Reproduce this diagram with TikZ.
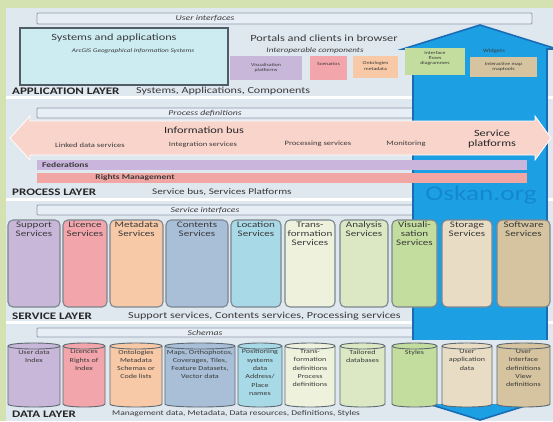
\documentclass[tikz,border=0pt]{standalone}
\usepackage{fontspec}
\setmainfont{Carlito}[FakeStretch=1.3]
\usetikzlibrary{fit}
\definecolor{bgreen}{HTML}{D4E2B2}
\definecolor{panel}{HTML}{DFE7EF}
\definecolor{barfill}{HTML}{E8EEF6}
\definecolor{bardraw}{HTML}{8E9BAB}
\definecolor{sysfill}{HTML}{CCECF1}
\definecolor{sysdraw}{HTML}{505C66}
\definecolor{bluef}{HTML}{1D9FE4}
\definecolor{blued}{HTML}{1A6DB4}
\definecolor{oskan}{HTML}{1488CE}
\definecolor{busfill}{HTML}{F9D4CB}
\definecolor{fedfill}{HTML}{CAB5DD}
\definecolor{rightsfill}{HTML}{F2A6A3}
\definecolor{txt}{HTML}{3A3A3A}
\definecolor{txtdark}{HTML}{262626}
\definecolor{svcdraw}{HTML}{7C868F}
\definecolor{cyldraw}{HTML}{5E6A72}
\definecolor{cA}{HTML}{C9B7D9}
\definecolor{cB}{HTML}{F2A5AA}
\definecolor{cC}{HTML}{F8C9A6}
\definecolor{cD}{HTML}{A9BFD8}
\definecolor{cE}{HTML}{A8D9E6}
\definecolor{cF}{HTML}{EEF2DD}
\definecolor{cG}{HTML}{DBE8C3}
\definecolor{cH}{HTML}{C3DD9F}
\definecolor{cI}{HTML}{E8DCC5}
\definecolor{cJ}{HTML}{D5C49F}
\newcommand\svcnode[5]{%
  \node[svcbox, fill=#4, fit={(#2,220) (#3,307)}] (#1) {};
  \node[svctext] (#1t) at ({(#2+#3)/2},221.5) {#5};
}
\newcommand\datacyl[5]{%
  \filldraw[cylstyle, fill=#4] (#2,346) -- (#2,404) .. controls (#2,408) and (#3,408) .. (#3,404) -- (#3,346) .. controls (#3,342) and (#2,342) .. (#2,346) -- cycle;
  \draw[cylstyle] (#2,346) .. controls (#2,350) and (#3,350) .. (#3,346);
  \node[cyltext] (#1) at ({(#2+#3)/2},349.5) {#5};
}
\begin{document}
\begin{tikzpicture}[x=1pt,y=-1pt,
  bar/.style={draw=bardraw, fill=barfill, line width=0.8pt, rounded corners=1pt, inner sep=0pt},
  barlabel/.style={font=\fontsize{7.5}{8}\selectfont\itshape, text=txt, inner sep=0pt},
  comp/.style={inner sep=0pt, align=center, font=\fontsize{4.5}{5.2}\selectfont, text=txt},
  svcbox/.style={draw=svcdraw, line width=1.1pt, rounded corners=5pt, inner sep=0pt},
  svctext/.style={font=\fontsize{8.5}{9}\selectfont, align=center, text=txt, anchor=north, inner sep=0pt},
  cylstyle/.style={draw=cyldraw, line width=0.9pt},
  cyltext/.style={font=\fontsize{6.2}{8.3}\selectfont, align=center, text=txt, anchor=north, inner sep=0pt},
  layer/.style={font=\fontsize{10}{11}\selectfont\bfseries, text=txtdark, anchor=west, inner sep=0pt},
  layersub/.style={font=\fontsize{9.3}{10}\selectfont, text=txt, anchor=west, inner sep=0pt},
  bustext/.style={font=\fontsize{6.6}{7}\selectfont, text=txt, inner sep=0pt},
  bandtext/.style={font=\fontsize{7.3}{8}\selectfont\bfseries, text=txt, inner sep=0pt},
]
\useasboundingbox (0,0) rectangle (553,421);
\fill[bgreen] (0,0) rectangle (553,421);
\fill[panel] (6,8) rectangle (553,421);
\fill[white] (6,96) rectangle (553,99);
\fill[white] (6,198) rectangle (553,201);
\fill[white] (6,321) rectangle (553,324);

% bars
\node[bar, fit={(37,13) (532,24)}] (uibar) {};
\node[barlabel] (uilab) at (205,18.5) {User interfaces};
\node[bar, fit={(37,108) (532,118)}] (pdbar) {};
\node[barlabel] (pdlab) at (205,113) {Process definitions};
\node[bar, fit={(37,205) (532,215)}] (sibar) {};
\node[barlabel] (silab) at (205,210) {Service interfaces};
\node[bar, fit={(37,328) (532,337)}] (scbar) {};
\node[barlabel] (sclab) at (205,332.5) {Schemas};

% application layer
\node[draw=sysdraw, fill=sysfill, line width=1.1pt, inner sep=0pt, fit={(20,28) (228,85)}] (sys) {};
\node[font=\fontsize{9.5}{10}\selectfont, text=txt, inner sep=0pt] (systitle) at (114,38) {Systems and applications};
\node[font=\fontsize{5.6}{6}\selectfont\itshape, text=txt, inner sep=0pt] (syssub) at (133,51) {ArcGIS Geographical Information Systems};
\node[font=\fontsize{9.5}{10}\selectfont, text=txt, inner sep=0pt] (portals) at (324,38) {Portals and clients in browser};
\node[font=\fontsize{7}{7.5}\selectfont\itshape, text=txt, inner sep=0pt] (interop) at (315,51) {Interoperable components};
\node[comp, fill=cA, fit={(230,56) (302,80)}] (cvis) {};
\node[comp] (cvist) at (266,68) {Visualisation\\platforms};
\node[comp, fill=cB, fit={(310,56) (347,80)}] (cscn) {};
\node[comp] (cscnt) at (328.5,64) {Scenarios};
\node[comp, fill=cC, fit={(353,56) (398,78)}] (contol) {};
\node[comp] (contolt) at (375.5,66) {Ontologies\\metadata};

% blue vertical arrow
\filldraw[fill=bluef, draw=blued, line width=1.6pt, line join=miter]
  (480,25) -- (557,49) -- (547,49) -- (547,396) -- (557,396) -- (480,420) -- (403,396) -- (413,396) -- (413,49) -- (403,49) -- cycle;

\node[comp, fill=cH, fit={(405,48) (465,75)}] (cflow) {};
\node[comp, anchor=north] (cflowt) at (435,51) {Interface\\flows\\diagrammes};
\node[comp, fill=cJ, fit={(470,57) (537,77)}] (cmap) {};
\node[comp] (cmapt) at (503.5,67) {Interactive map\\maptools};
\node[comp, font=\fontsize{5}{6}\selectfont] (cwid) at (494,51.5) {Widgets};

\node[layer] (applab) at (12,91) {APPLICATION LAYER};
\node[layersub] (appsub) at (136,91) {Systems, Applications, Components};

% process layer
\filldraw[fill=busfill, draw=white, line width=0.8pt]
  (10,138) -- (30,116) -- (30,121) -- (535,121) -- (535,116) -- (551,138) -- (535,160) -- (535,155) -- (30,155) -- (30,160) -- cycle;
\node[font=\fontsize{9.5}{10}\selectfont, text=txtdark, inner sep=0pt] (infobus) at (204,130) {Information bus};
\node[bustext] (linked) at (90,145) {Linked data services};
\node[bustext] (integ) at (203,145) {Integration services};
\node[bustext] (procs) at (318,144) {Processing services};
\node[bustext] (monit) at (406,144) {Monitoring};
\node[font=\fontsize{9.5}{9.5}\selectfont, text=txtdark, align=center, inner sep=0pt] (svcplat) at (492,139) {Service\\platforms};

\node[fill=fedfill, inner sep=0pt, fit={(37,160) (527,170)}] (fedbar) {};
\node[bandtext, anchor=west] (fedlab) at (42,165) {Federations};
\node[fill=rightsfill, inner sep=0pt, fit={(37,173) (527,183)}] (rightsbar) {};
\node[bandtext] (rightslab) at (135,178) {Rights Management};

\node[font=\fontsize{21}{23}\selectfont, text=oskan, inner sep=0pt] (oskan) at (481,195) {Oskan.org};

\node[layer] (proclab) at (12,192) {PROCESS LAYER};
\node[layersub, font=\fontsize{8.6}{9}\selectfont] (procsub) at (152,192) {Service bus, Services Platforms};

% service layer
\svcnode{s1}{8}{60}{cA}{Support\\Services}
\svcnode{s2}{63}{107}{cB}{Licence\\Services}
\svcnode{s3}{110}{163}{cC}{Metadata\\Services}
\svcnode{s4}{166}{228}{cD}{Contents\\Services}
\svcnode{s5}{231}{281}{cE}{Location\\Services}
\svcnode{s6}{285}{335}{cF}{Trans-\\formation\\Services}
\svcnode{s7}{340}{388}{cG}{Analysis\\Services}
\svcnode{s8}{392}{437}{cH}{Visuali-\\sation\\Services}
\svcnode{s9}{442}{492}{cI}{Storage\\Services}
\svcnode{s10}{497}{550}{cJ}{Software\\Services}

\node[layer] (svclab) at (12,316) {SERVICE LAYER};
\node[layersub] (svcsub) at (128,316) {Support services, Contents services, Processing services};

% data layer
\fill[panel] (6,340) rectangle (553,404);
\datacyl{d1}{8}{60}{cA}{User data\\Index}
\datacyl{d2}{63}{105}{cB}{Licences\\Rights of\\Index}
\datacyl{d3}{110}{162}{cC}{Ontologies\\Metadata\\Schemas or\\Code lists}
\datacyl{d4}{165}{235}{cD}{Maps, Orthophotos,\\Coverages, Tiles,\\Feature Datasets,\\Vector data}
\datacyl{d5}{238}{282}{cE}{Positioning\\systems\\data\\Address/\\Place\\names}
\datacyl{d6}{285}{335}{cF}{Trans-\\formation\\definitions\\Process\\definitions}
\datacyl{d7}{340}{385}{cG}{Tailored\\databases}
\datacyl{d8}{392}{437}{cH}{Styles}
\datacyl{d9}{442}{492}{cI}{User\\application\\data}
\datacyl{d10}{497}{550}{cJ}{User\\Interface\\definitions\\View\\definitions}

\node[layer] (datalab) at (12,414) {DATA LAYER};
\node[layersub, font=\fontsize{7.3}{8}\selectfont] (datasub) at (112,414) {Management data, Metadata, Data resources, Definitions, Styles};
\end{tikzpicture}
\end{document}
